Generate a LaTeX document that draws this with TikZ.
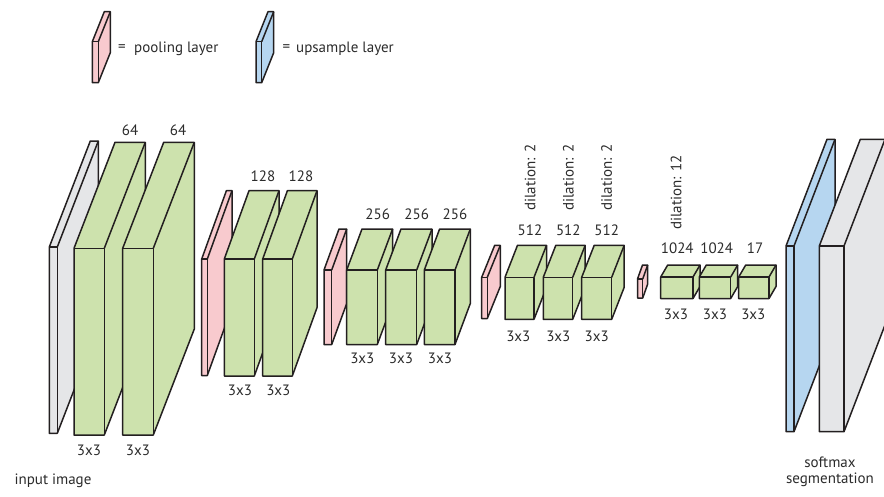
\documentclass[tikz,border=0pt]{standalone}
\usepackage{fontspec}
\setmainfont{PT Sans}
\definecolor{edge}{HTML}{231F20}
\definecolor{txt}{HTML}{2B2B2B}
\definecolor{cgreen}{RGB}{205,226,173}
\definecolor{cpink}{RGB}{248,202,206}
\definecolor{cblue}{RGB}{182,214,240}
\definecolor{cgray}{RGB}{229,230,232}
\tikzset{
  boxline/.style={draw=edge, line width=1.5pt, line join=round},
  lbl/.style={font=\fontsize{15}{17}\selectfont, text=txt, inner sep=0pt},
  vlbl/.style={lbl, rotate=90, anchor=west}
}
% #1 colour, #2 x0, #3 y0, #4 x1, #5 y1, #6 dx, #7 dy
\newcommand\cuboid[7]{%
  \filldraw[boxline, fill=#1] (#2,#5) -- (#2,#3) -- ({#2+#6},{#3+#7}) -- ({#4+#6},{#3+#7})
     -- ({#4+#6},{#5+#7}) -- (#4,#5) -- cycle;
  \draw[boxline] (#2,#3) -- (#4,#3) -- (#4,#5);
  \draw[boxline] (#4,#3) -- ({#4+#6},{#3+#7});
}
\begin{document}
\begin{tikzpicture}[x=1pt,y=-1pt]
\clip (0,0) rectangle (884,496);
% legend
\cuboid{cpink}{92.3}{41.7}{98.3}{82.7}{12}{-30}
\node[lbl] (eqp) at (122,48.5) {=};
\node[lbl, anchor=west] (legp) at (134,48.5) {pooling layer};
\cuboid{cblue}{256}{41.7}{261.7}{82.7}{12}{-30}
\node[lbl] (equ) at (286.5,48.5) {=};
\node[lbl, anchor=west] (legu) at (296,48.5) {upsample layer};
% input image
\cuboid{cgray}{49.3}{247}{57.3}{433.3}{41}{-106}
% block 1
\cuboid{cgreen}{74}{248.3}{104.3}{435}{41}{-106}
\cuboid{cgreen}{122.7}{248.3}{153.3}{435}{41}{-106}
% block 2
\cuboid{cpink}{201.7}{259}{207.3}{375.5}{24.7}{-68.3}
\cuboid{cgreen}{224.3}{259}{254.3}{376}{24.7}{-68.3}
\cuboid{cgreen}{262.7}{259}{292.3}{376}{24.7}{-68.3}
% block 3
\cuboid{cpink}{324}{270}{331.7}{344.5}{15}{-41}
\cuboid{cgreen}{346.7}{270}{377.3}{344.5}{15.3}{-41}
\cuboid{cgreen}{385.7}{270}{416.7}{344.5}{15.3}{-41}
\cuboid{cgreen}{424.3}{270}{455}{344.5}{15.3}{-41}
% block 4
\cuboid{cpink}{481.7}{277.3}{487.3}{318.5}{13}{-32}
\cuboid{cgreen}{505}{277.3}{534}{319.3}{12.5}{-32}
\cuboid{cgreen}{543.3}{277.3}{572.7}{319.3}{12.5}{-32}
\cuboid{cgreen}{581.7}{277.3}{611.7}{319.3}{12.5}{-32}
% block 5
\cuboid{cpink}{637.5}{279}{642.7}{298}{5}{-14}
\cuboid{cgreen}{660.7}{277}{693}{298.5}{7}{-12}
\cuboid{cgreen}{699.3}{277}{730.7}{298.5}{7}{-12}
\cuboid{cgreen}{738.7}{277}{769}{298.5}{7}{-12}
% upsample + output
\cuboid{cblue}{786}{246}{794}{431.7}{41}{-106.7}
\cuboid{cgray}{819.3}{246}{844}{431.7}{41}{-106.7}
% labels
\node[lbl] (n64a) at (130,130) {64};
\node[lbl] (n64b) at (178,130) {64};
\node[lbl] (k1a) at (89,450) {3x3};
\node[lbl] (k1b) at (138,450) {3x3};
\node[lbl] (n128a) at (263,176.7) {128};
\node[lbl] (n128b) at (301,176.7) {128};
\node[lbl] (k2a) at (240,390) {3x3};
\node[lbl] (k2b) at (278.3,390) {3x3};
\node[lbl] (n256a) at (377.7,214) {256};
\node[lbl] (n256b) at (416.7,214) {256};
\node[lbl] (n256c) at (455,214) {256};
\node[lbl] (k3a) at (362.3,358.5) {3x3};
\node[lbl] (k3b) at (401,358.5) {3x3};
\node[lbl] (k3c) at (440,358.5) {3x3};
\node[lbl] (n512a) at (530,230.7) {512};
\node[lbl] (n512b) at (568.3,230.7) {512};
\node[lbl] (n512c) at (606.7,230.7) {512};
\node[lbl] (k4a) at (518.3,336.7) {3x3};
\node[lbl] (k4b) at (558.3,336.7) {3x3};
\node[lbl] (k4c) at (596.7,336.7) {3x3};
\node[vlbl] (d1) at (530,211) {dilation: 2};
\node[vlbl] (d2) at (568.3,211) {dilation: 2};
\node[vlbl] (d3) at (606.7,211) {dilation: 2};
\node[vlbl] (d4) at (676,230) {dilation: 12};
\node[lbl] (n1024a) at (677.3,248.3) {1024};
\node[lbl] (n1024b) at (716.7,248.3) {1024};
\node[lbl] (n17) at (755,248.3) {17};
\node[lbl] (k5a) at (676,314) {3x3};
\node[lbl] (k5b) at (715,314) {3x3};
\node[lbl] (k5c) at (753.3,314) {3x3};
\node[lbl] (inp) at (53,481) {input image};
\node[lbl] (smax) at (830,462) {softmax};
\node[lbl] (seg) at (830,480) {segmentation};
\end{tikzpicture}
\end{document}
